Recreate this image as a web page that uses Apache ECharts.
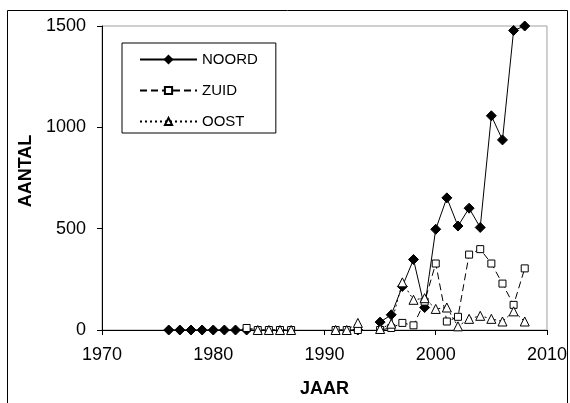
<!DOCTYPE html>
<html>
<head>
<meta charset="utf-8">
<script src="https://cdn.jsdelivr.net/npm/echarts@6/dist/echarts.min.js"></script>
<style>
html,body{margin:0;padding:0;background:#fff;}
#c{width:570px;height:403px;}
</style>
</head>
<body>
<div id="c"></div>
<script>
var years = [1976,1977,1978,1979,1980,1981,1982,1983,1984,1985,1986,1987,1988,1989,1990,1991,1992,1993,1994,1995,1996,1997,1998,1999,2000,2001,2002,2003,2004,2005,2006,2007,2008];
var noord = [0,0,0,0,0,0,0,0, null,null,null,null,null,null,null,null,null, 0, null, 39,75,215,348,111,497,652,513,601,506,1057,938,1478,1500];
var zuid  = [null,null,null,null,null,null,null, 10, 0,0,0,0, null,null,null, 0,0,0, null, 0,10,35,23,140,328,42,65,372,399,328,229,124,304];
var oost  = [null,null,null,null,null,null,null,null, 0,0,0,0, null,null,null, 0,0,35, null, 5,31,235,149,157,104,111,18,55,70,55,42,92,42];
var seriesNames = ['NOORD','ZUID','OOST'];
var xTicks = {min:1970, max:2010, interval:10};
var yTicks = {min:0, max:1500, interval:500};

function pairs(vals){ return years.map(function(y,i){ return [y, vals[i]]; }); }

var chart = echarts.init(document.getElementById('c'), null, {renderer:'canvas'});
var font = 'Liberation Sans, Arial, sans-serif';
chart.setOption({
  backgroundColor:'#fff',
  animation:false,
  textStyle:{fontFamily:font, color:'#000'},
  graphic:[{type:'rect', shape:{x:7.5,y:10.5,width:560,height:400}, style:{fill:'none', stroke:'#000', lineWidth:1}, z:-1}],
  grid:{left:102, right:23, top:26, bottom:71, show:true, borderColor:'#a0a0a0', borderWidth:1, backgroundColor:'#fff'},
  legend:{
    orient:'vertical', left:122, top:43,
    padding:[9,18,4,17], itemGap:16, itemWidth:57, itemHeight:9,
    borderColor:'#000', borderWidth:1, backgroundColor:'#fff',
    textStyle:{fontFamily:font, fontSize:15, color:'#000'},
    data:seriesNames
  },
  xAxis:{
    type:'value', min:xTicks.min, max:xTicks.max, interval:xTicks.interval,
    name:'JAAR', nameLocation:'middle', nameGap:50,
    nameTextStyle:{fontFamily:font, fontSize:18, fontWeight:'bold', color:'#000'},
    axisLine:{lineStyle:{color:'#000', width:1}},
    axisTick:{show:true, inside:false, length:5, lineStyle:{color:'#000', width:1}},
    axisLabel:{fontFamily:font, fontSize:18, color:'#000', margin:16, formatter:function(v){return String(v);}},
    splitLine:{show:false}
  },
  yAxis:{
    type:'value', min:yTicks.min, max:yTicks.max, interval:yTicks.interval,
    name:'AANTAL', nameLocation:'middle', nameGap:66, nameRotate:90,
    nameTextStyle:{fontFamily:font, fontSize:18, fontWeight:'bold', color:'#000', padding:[0,0,0,14]},
    axisLine:{show:true, lineStyle:{color:'#000', width:1}},
    axisTick:{show:true, inside:false, length:5, lineStyle:{color:'#000', width:1}},
    axisLabel:{fontFamily:font, fontSize:18, color:'#000', margin:16, formatter:function(v){return String(v);}},
    splitLine:{show:false}
  },
  series:[
    {name:seriesNames[0], type:'line', data:pairs(noord), connectNulls:false, z:2,
     symbol:'diamond', symbolSize:10, showAllSymbol:true,
     lineStyle:{color:'#000', width:1, type:'solid'},
     itemStyle:{color:'#000', borderColor:'#000', borderWidth:1}},
    {name:seriesNames[1], type:'line', data:pairs(zuid), connectNulls:false, z:3,
     symbol:'rect', symbolSize:7, showAllSymbol:true,
     lineStyle:{color:'#000', width:1, type:[7,4]},
     itemStyle:{color:'#fff', borderColor:'#000', borderWidth:1}},
    {name:seriesNames[2], type:'line', data:pairs(oost), connectNulls:false, z:4,
     symbol:'triangle', symbolSize:9, showAllSymbol:true,
     lineStyle:{color:'#000', width:1, type:[2,3]},
     itemStyle:{color:'#fff', borderColor:'#000', borderWidth:1}}
  ]
});
</script>
</body>
</html>
